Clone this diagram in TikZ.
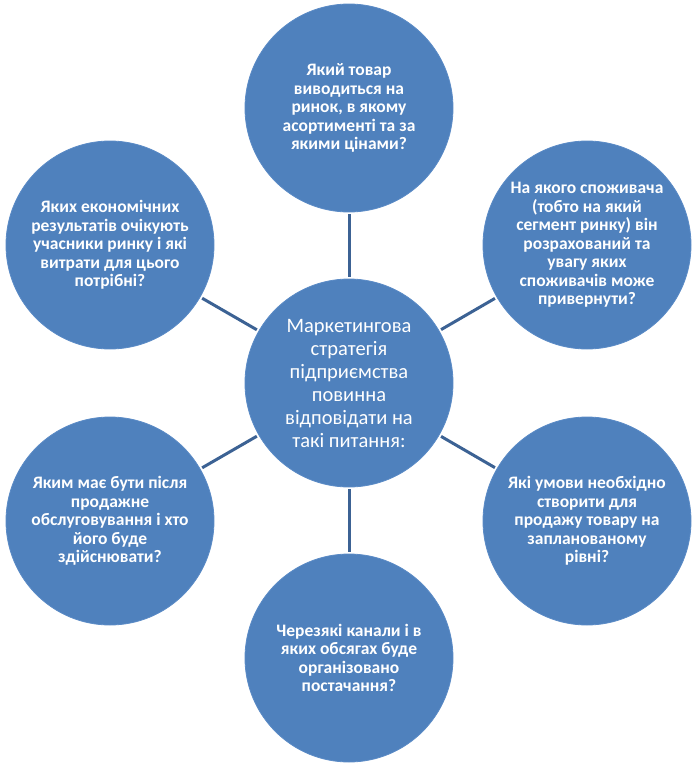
\documentclass[tikz,border=0pt]{standalone}
\usepackage{fontspec}
\setmainfont{Carlito}
\definecolor{cfill}{HTML}{4F81BD}
\definecolor{cedge}{HTML}{5B8BC6}
\definecolor{cline}{HTML}{3C6294}
\begin{document}
\begin{tikzpicture}[x=1pt,y=-1pt,
  bubble/.style={circle,fill=cfill,draw=cedge,line width=0.8pt,minimum size=208pt,inner sep=0pt,
    text=white,align=center,font=\fontsize{17.5}{18.5}\selectfont\bfseries},
  hub/.style={bubble,font=\fontsize{20.5}{23}\selectfont},
  conn/.style={draw=cline,line width=3pt,shorten <=2pt,shorten >=2pt}]
\useasboundingbox (0,0) rectangle (696,766);
\node[hub] (c) at (349,383) {Маркетингова\\стратегія\\підприємства\\повинна\\відповідати на\\такі питання:};
\node[bubble] (t) at (349,108) {Який товар\\виводиться на\\ринок, в якому\\асортименті та за\\якими цінами?};
\node[bubble] (ur) at (587,245) {На якого споживача\\(тобто на який\\сегмент ринку) він\\розрахований та\\увагу яких\\споживачів може\\привернути?};
\node[bubble] (lr) at (587,521) {Які умови необхідно\\створити для\\продажу товару на\\запланованому\\рівні?};
\node[bubble] (b) at (349,658) {Черезякі канали і в\\яких обсягах буде\\організовано\\постачання?};
\node[bubble] (ll) at (110,521) {Яким має бути після\\продажне\\обслуговування і хто\\його буде\\здійснювати?};
\node[bubble] (ul) at (110,245) {Яких економічних\\результатів очікують\\учасники ринку і які\\витрати для цього\\потрібні?};
\draw[conn] (c) -- (t);
\draw[conn] (c) -- (ur);
\draw[conn] (c) -- (lr);
\draw[conn] (c) -- (b);
\draw[conn] (c) -- (ll);
\draw[conn] (c) -- (ul);
\end{tikzpicture}
\end{document}
